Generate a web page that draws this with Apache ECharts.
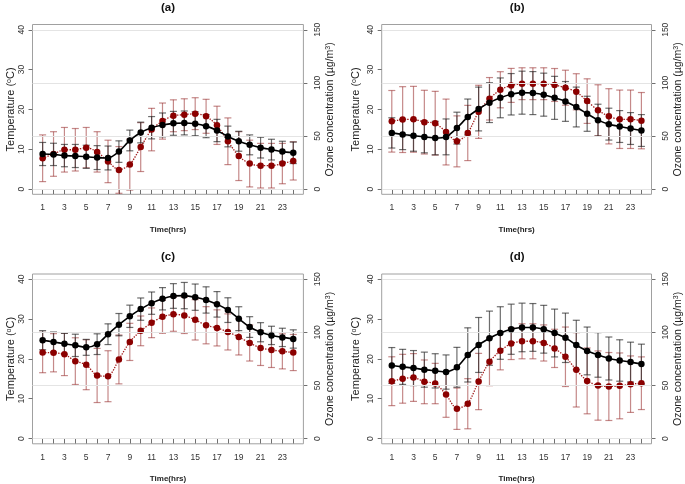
<!DOCTYPE html>
<html><head><meta charset="utf-8">
<script src="https://cdn.jsdelivr.net/npm/echarts@6/dist/echarts.min.js"></script>
<style>html,body{margin:0;padding:0;background:#fff}#c{width:685px;height:484px}</style>
</head><body><div id="c"></div>
<script>
const hours = [1,2,3,4,5,6,7,8,9,10,11,12,13,14,15,16,17,18,19,20,21,22,23,24];
const hourLabels = [1,3,5,7,9,11,13,15,17,19,21,23];
const tempTicks = [0,10,20,30,40];
const ozoneTicks = [0,50,100,150];
const panelTitles = ['(a)','(b)','(c)','(d)'];

const tempA = [8.8,8.7,8.4,8.3,8.1,7.9,7.8,9.4,12.2,14.2,15.4,16.1,16.5,16.6,16.4,15.8,14.7,13.2,12.0,11.1,10.4,9.9,9.4,9.1];
const tempSdA = [2.9,2.8,2.8,2.9,2.9,3.0,3.0,2.7,2.6,2.6,2.8,3.0,3.0,3.0,3.0,2.9,2.8,2.6,2.5,2.5,2.6,2.6,2.6,2.7];
const ozoneA = [29,33,37,37,39,35,26,18,23,39.5,56,64,69,70,71,68.5,60,45,31,24,22,22,24,26.5];
const ozoneSdA = [22,21,21,20,19,19,20,22,24,23,20,17,15,15,15,16,18,22,23,22,21,21,19,18];

const tempB = [14.1,13.7,13.4,13.1,12.8,13.1,15.3,18.1,20.1,21.7,22.9,23.8,24.2,24.1,23.7,22.9,22.0,20.6,18.9,17.3,16.3,15.7,15.2,14.7];
const tempSdB = [3.8,3.8,3.9,4.0,4.2,4.5,4.0,4.5,5.5,5.0,5.0,5.2,5.4,5.4,5.4,5.4,5.0,5.0,4.4,4.0,4.0,4.0,4.0,4.0];
const ozoneB = [63.8,65.4,65.7,63,62,53.7,44.9,52.8,72.7,85,93.5,97.6,99.2,99.2,99.2,98,95.4,91.6,82.8,74.2,68.5,65.7,65.7,64.4];
const ozoneSdB = [29,31,31,30,30,31,24,26,25,20,17,16,15,15,15,15.5,16.5,17,21,24,26,27.5,27.5,26.5];

const tempC = [24.7,24.25,23.8,23.4,22.9,23.7,26.2,28.6,30.7,32.5,34.0,35.1,35.8,35.9,35.5,34.8,33.7,32.25,30.1,28.0,26.7,25.9,25.4,25.0];
const tempSdC = [2.4,2.5,2.6,2.8,2.0,2.6,2.6,2.8,2.8,2.8,2.8,2.8,3.1,3.3,3.3,3.3,3.2,3.1,3.0,2.6,2.4,2.3,2.3,2.3];
const ozoneC = [81,80.8,79.3,72.9,69.5,59.4,58.7,74.5,91,101.4,109,114.6,117,115.9,111.8,106.7,104.2,100.4,95.7,90,85.3,83.4,82.1,81];
const ozoneSdC = [19,18,20,22,23.5,25.5,24,23,17.5,14,14,15.5,16,17,19,17.5,17,17,17,17,16.5,16.5,16.5,17];

const tempD = [18.35,18.0,17.7,17.3,17.0,16.7,17.9,21.0,23.5,25.2,26.5,27.45,27.9,27.9,27.45,26.5,25.3,23.5,22.0,21.0,20.1,19.6,19.2,18.7];
const tempSdD = [4.5,4.4,4.4,4.4,4.3,4.3,5.0,6.8,6.9,6.8,6.6,6.3,6.1,6.0,6.0,6.0,6.2,6.2,6.0,5.6,5.4,5.2,5.0,5.0];
const ozoneD = [54,56.3,57.5,53.4,51.8,41.4,28.1,32.8,53.7,72.3,82.7,89.4,91.6,91.6,90,84.9,77,64.7,54.3,49.9,49,49.6,51.2,52.1];
const ozoneSdD = [23,23,22.5,20.6,19,21.4,19.5,23.6,26.5,22.5,18,15,16.5,16.5,17,18,28,35,31,32.6,32,31,26.6,24.8];

const panels = [
  {temp: tempA, tempSd: tempSdA, ozone: ozoneA, ozoneSd: ozoneSdA},
  {temp: tempB, tempSd: tempSdB, ozone: ozoneB, ozoneSd: ozoneSdB},
  {temp: tempC, tempSd: tempSdC, ozone: ozoneC, ozoneSd: ozoneSdC},
  {temp: tempD, tempSd: tempSdD, ozone: ozoneD, ozoneSd: ozoneSdD}
];

const FONT = 'Liberation Sans, Arial, Helvetica, sans-serif';
const gridPos = [
  {left: 32.5, top: 24.5}, {left: 381.7, top: 24.5},
  {left: 32.5, top: 274}, {left: 381.7, top: 274}
];
const GW = 270.9, GH = 169.8;
const leftNameGap = [15, 20, 15, 20];

const grids = [], xAxes = [], yAxes = [], series = [], graphics = [];

function errSeries(xi, yi, vals, sds, color, z) {
  return {
    type: 'custom', xAxisIndex: xi, yAxisIndex: yi, z: z, silent: true,
    data: hours.map((h, i) => [h, vals[i] - sds[i], vals[i] + sds[i]]),
    encode: {x: 0, y: [1, 2]},
    renderItem: function (params, api) {
      const x = api.value(0), lo = api.value(1), hi = api.value(2);
      const p1 = api.coord([x, lo]), p2 = api.coord([x, hi]);
      const w = 3.5;
      const st = {stroke: color, lineWidth: 1.2};
      return {type: 'group', children: [
        {type: 'line', shape: {x1: p1[0], y1: p1[1], x2: p2[0], y2: p2[1]}, style: st},
        {type: 'line', shape: {x1: p1[0] - w, y1: p1[1], x2: p1[0] + w, y2: p1[1]}, style: st},
        {type: 'line', shape: {x1: p2[0] - w, y1: p2[1], x2: p2[0] + w, y2: p2[1]}, style: st}
      ]};
    }
  };
}

panels.forEach((p, k) => {
  grids.push({left: gridPos[k].left, top: gridPos[k].top, width: GW, height: GH,
    show: true, borderColor: '#a0a0a0', borderWidth: 1, backgroundColor: 'transparent'});
  xAxes.push({
    type: 'value', gridIndex: k, min: 0.07, max: 24.93,
    axisLine: {show: false},
    axisTick: {show: true, length: 5, customValues: hours, lineStyle: {color: '#707070'}},
    axisLabel: {customValues: hourLabels, fontSize: 8.5, color: '#333', margin: 9, fontFamily: FONT},
    splitLine: {show: false},
    name: 'Time(hrs)', nameLocation: 'middle', nameGap: 31,
    nameTextStyle: {fontSize: 8, fontWeight: 'bold', color: '#222', fontFamily: FONT}
  });
  yAxes.push({
    type: 'value', gridIndex: k, position: 'left', min: -1.32, max: 41.32,
    axisLine: {show: false},
    axisTick: {show: true, length: 4, customValues: tempTicks, lineStyle: {color: '#707070'}},
    axisLabel: {customValues: tempTicks, rotate: 90, fontSize: 8.5, color: '#333', margin: 6.5, fontFamily: FONT},
    splitLine: {show: false},
    name: 'Temperature ({s|o}C)', nameLocation: 'middle', nameGap: leftNameGap[k],
    nameTextStyle: {fontSize: 11, color: '#222', fontFamily: FONT,
      rich: {s: {fontSize: 7, verticalAlign: 'top', color: '#222', fontFamily: FONT}}}
  });
  yAxes.push({
    type: 'value', gridIndex: k, position: 'right', min: -4.95, max: 154.95,
    axisLine: {show: false},
    axisTick: {show: true, length: 4, customValues: ozoneTicks, lineStyle: {color: '#707070'}},
    axisLabel: {customValues: ozoneTicks, rotate: 90, fontSize: 8.5, color: '#333', margin: 10, fontFamily: FONT},
    splitLine: {show: false},
    name: 'Ozone concentration (µg/m{s|3})', nameLocation: 'middle', nameGap: 21.5,
    nameTextStyle: {fontSize: 10.5, color: '#222', fontFamily: FONT,
      rich: {s: {fontSize: 7, verticalAlign: 'top', color: '#222', fontFamily: FONT}}}
  });
  const yT = 2 * k, yO = 2 * k + 1;
  series.push({
    type: 'line', xAxisIndex: k, yAxisIndex: yO, data: [], silent: true, z: 1,
    markLine: {silent: true, symbol: 'none', label: {show: false}, animation: false,
      lineStyle: {color: '#e4e4e4', type: 'solid', width: 1},
      data: ozoneTicks.map(v => ({yAxis: v}))}
  });
  series.push(errSeries(k, yO, p.ozone, p.ozoneSd, 'rgba(150,40,40,0.55)', 2));
  series.push(errSeries(k, yT, p.temp, p.tempSd, 'rgba(30,30,30,0.65)', 3));
  series.push({
    type: 'line', xAxisIndex: k, yAxisIndex: yO, z: 4, smooth: 0.25,
    data: hours.map((h, i) => [h, p.ozone[i]]),
    symbol: 'circle', symbolSize: 6.5,
    itemStyle: {color: '#8b0000'},
    lineStyle: {color: '#a01818', width: 1.3, type: 'dotted'}
  });
  series.push({
    type: 'line', xAxisIndex: k, yAxisIndex: yT, z: 5, smooth: 0.25,
    data: hours.map((h, i) => [h, p.temp[i]]),
    symbol: 'circle', symbolSize: 6.5,
    itemStyle: {color: '#000'},
    lineStyle: {color: '#000', width: 1.6}
  });
  graphics.push({type: 'text', x: gridPos[k].left + GW / 2, y: gridPos[k].top - 17,
    style: {text: panelTitles[k], textAlign: 'center', textVerticalAlign: 'middle',
      font: 'bold 11.5px ' + FONT, fill: '#111'}});
});

const chart = echarts.init(document.getElementById('c'), null, {renderer: 'canvas'});
chart.setOption({
  animation: false,
  backgroundColor: '#fff',
  grid: grids, xAxis: xAxes, yAxis: yAxes, series: series, graphic: graphics
});
</script></body></html>
